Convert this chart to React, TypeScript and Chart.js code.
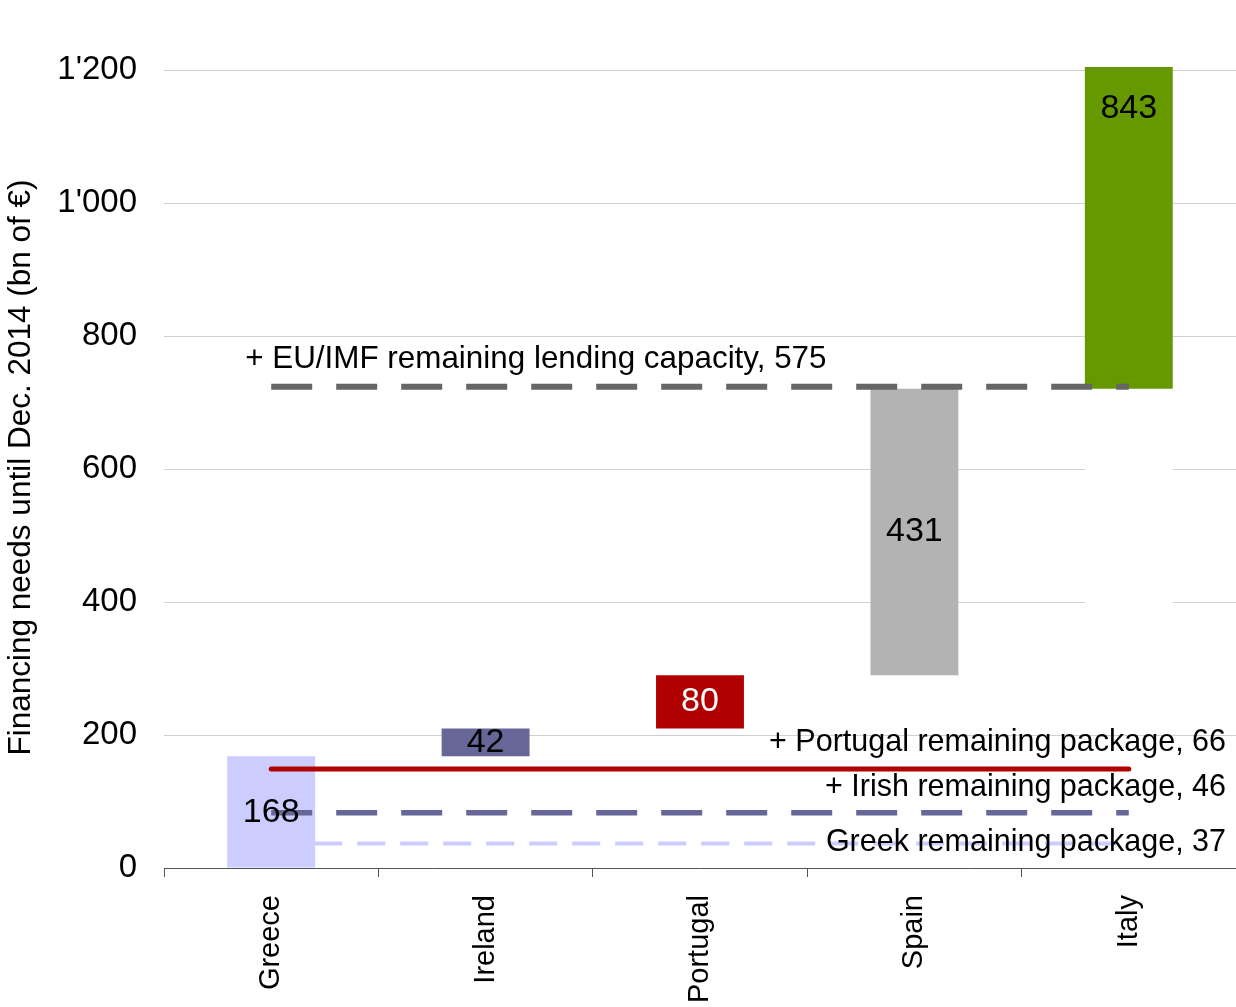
import { useEffect, useRef } from "react";
import { Chart, registerables } from "chart.js";

Chart.register(...registerables);

// Financing needs until Dec. 2014 (bn of €), built up country by country
const COUNTRIES = ["Greece", "Ireland", "Portugal", "Spain", "Italy"];
const NEED_START = [0, 168, 210, 290, 721];
const NEED_AMOUNT = [168, 42, 80, 431, 843];

// Remaining rescue resources, stacked on top of each other
const PACKAGE_LABELS = [
  "Greek remaining package",
  "+ Irish remaining package",
  "+ Portugal remaining package",
  "+ EU/IMF remaining lending capacity",
];
const PACKAGE_AMOUNTS = [37, 46, 66, 575];

const Y_TICKS = [0, 200, 400, 600, 800, 1000, 1200];
const Y_MAX = 1205;
const Y_TITLE = "Financing needs until Dec. 2014 (bn of €)";

const FONT = "'Liberation Sans', Arial, sans-serif";
const BAR_COLORS = ["#ccccff", "#666699", "#b00000", "#b3b3b3", "#669900"];
const VALUE_COLORS = ["#000000", "#000000", "#ffffff", "#000000", "#000000"];

type LineStyle = {
  color: string;
  width: number;
  dash: number[];
  cap: CanvasLineCap;
  labelAlign: "left" | "right";
  labelLift: number;
  labelSize: number;
};

const LINE_STYLES: LineStyle[] = [
  { color: "#ccccff", width: 4, dash: [28, 15], cap: "butt", labelAlign: "right", labelLift: 1, labelSize: 30.5 },
  { color: "#666699", width: 5.5, dash: [41, 24], cap: "butt", labelAlign: "right", labelLift: 25, labelSize: 30.5 },
  { color: "#b00000", width: 5, dash: [], cap: "round", labelAlign: "right", labelLift: 26, labelSize: 30.5 },
  { color: "#666666", width: 6, dash: [41, 24], cap: "butt", labelAlign: "left", labelLift: 27, labelSize: 31.4 },
];

// running totals of the remaining packages
const PACKAGE_LEVELS = PACKAGE_AMOUNTS.reduce<number[]>((acc, v) => {
  acc.push((acc.length ? acc[acc.length - 1] : 0) + v);
  return acc;
}, []);

const formatThousands = (v: number) =>
  String(v).replace(/\B(?=(\d{3})+(?!\d))/g, "'");

const overlayPlugin = {
  id: "waterfallOverlay",
  afterDatasetsDraw(chart: any) {
    const { ctx, chartArea } = chart;
    const x = chart.scales.x;
    const y = chart.scales.y;
    ctx.save();
    ctx.textBaseline = "middle";

    // value inside each bar
    ctx.font = `34px ${FONT}`;
    ctx.textAlign = "center";
    NEED_AMOUNT.forEach((v, i) => {
      ctx.fillStyle = VALUE_COLORS[i];
      ctx.fillText(
        String(v),
        x.getPixelForValue(i),
        y.getPixelForValue(NEED_START[i] + v / 2)
      );
    });

    // package captions
    ctx.fillStyle = "#000000";
    PACKAGE_LABELS.forEach((label, i) => {
      const st = LINE_STYLES[i];
      ctx.font = `${st.labelSize}px ${FONT}`;
      const py = y.getPixelForValue(PACKAGE_LEVELS[i]) - st.labelLift;
      const text = `${label}, ${PACKAGE_AMOUNTS[i]}`;
      if (st.labelAlign === "left") {
        ctx.textAlign = "left";
        ctx.fillText(text, x.getPixelForValue(0) - 26, py);
      } else {
        ctx.textAlign = "right";
        ctx.fillText(text, chartArea.right - 10, py);
      }
    });
    ctx.restore();
  },
};

export default function App() {
  const canvasRef = useRef<HTMLCanvasElement | null>(null);

  useEffect(() => {
    const canvas = canvasRef.current;
    if (!canvas) return;

    const barData = NEED_START.map((s, i) => [s, s + NEED_AMOUNT[i]]);
    // blank strip below the Italian bar
    const maskData = COUNTRIES.map((_, i) =>
      i === COUNTRIES.length - 1 ? [NEED_START[3], NEED_START[4]] : null
    );

    const lineSets = PACKAGE_LEVELS.map((level, i) => ({
      type: "line" as const,
      label: PACKAGE_LABELS[i],
      data: COUNTRIES.map(() => level),
      borderColor: LINE_STYLES[i].color,
      borderWidth: LINE_STYLES[i].width,
      borderDash: LINE_STYLES[i].dash,
      borderCapStyle: LINE_STYLES[i].cap,
      pointRadius: 0,
      fill: false,
      tension: 0,
      order: 0,
    }));

    const chart = new Chart(canvas, {
      type: "bar",
      data: {
        labels: COUNTRIES,
        datasets: [
          {
            type: "bar",
            label: "mask",
            data: maskData as any,
            backgroundColor: "#ffffff",
            borderWidth: 0,
            grouped: false,
            categoryPercentage: 1,
            barPercentage: 0.41,
            order: 2,
          },
          {
            type: "bar",
            label: "Financing needs",
            data: barData as any,
            backgroundColor: BAR_COLORS,
            borderWidth: 0,
            grouped: false,
            categoryPercentage: 1,
            barPercentage: 0.41,
            order: 1,
          },
          ...lineSets,
        ] as any,
      },
      options: {
        responsive: false,
        animation: false,
        layout: { padding: { top: 67, right: 0, left: 0, bottom: 0 } },
        plugins: {
          legend: { display: false },
          tooltip: { enabled: false },
        },
        scales: {
          x: {
            offset: true,
            grid: {
              offset: true,
              drawOnChartArea: false,
              drawTicks: true,
              tickLength: 9,
              color: "#555555",
            },
            border: { display: true, color: "#555555", width: 1 },
            ticks: {
              font: { family: FONT, size: 29 },
              color: "#000000",
              maxRotation: 90,
              minRotation: 90,
              autoSkip: false,
              padding: 18,
            },
            afterFit: (scale: any) => {
              scale.height = 139;
            },
          },
          y: {
            min: 0,
            max: Y_MAX,
            grid: { color: "#d0d0d0", lineWidth: 1, drawTicks: false },
            border: { display: false },
            ticks: {
              font: { family: FONT, size: 33 },
              color: "#000000",
              padding: 27,
              callback: (v: any) => formatThousands(Number(v)),
            },
            afterBuildTicks: (scale: any) => {
              scale.ticks = Y_TICKS.map((v) => ({ value: v }));
            },
            afterFit: (scale: any) => {
              scale.width = 164;
            },
            title: {
              display: true,
              text: Y_TITLE,
              font: { family: FONT, size: 31.5 },
              color: "#000000",
              padding: { top: 2, bottom: 0 },
            },
          },
        },
      },
      plugins: [overlayPlugin],
    });

    return () => chart.destroy();
  }, []);

  return (
    <div
      style={{
        position: "fixed",
        left: 0,
        top: 0,
        width: 1236,
        height: 1007,
        background: "#ffffff",
      }}
    >
      <canvas ref={canvasRef} width={1236} height={1007} />
    </div>
  );
}
